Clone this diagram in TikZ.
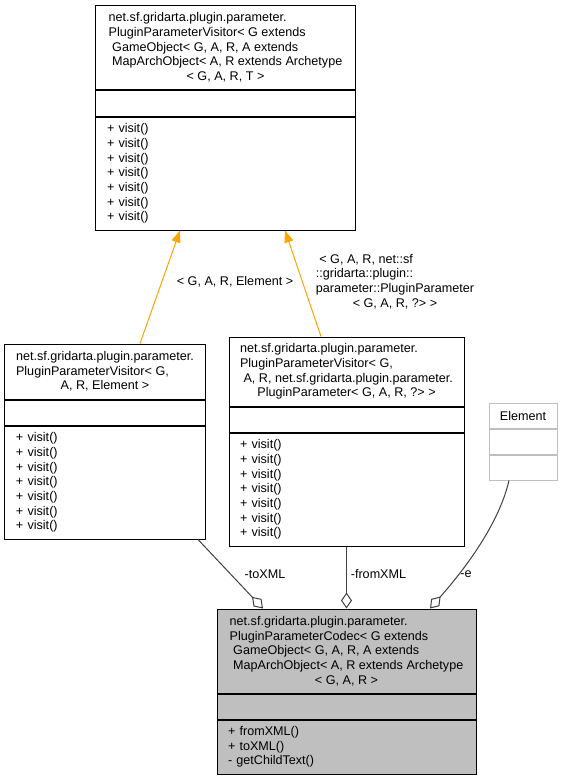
\documentclass[tikz,border=0pt]{standalone}
\usepackage{fontspec}
\setmainfont{Liberation Sans}
\usetikzlibrary{arrows.meta, positioning}
\definecolor{grey25}{HTML}{404040}
\definecolor{grey75}{HTML}{BFBFBF}
\definecolor{dotorange}{HTML}{FFA500}
\tikzset{%
    cls/.style={rectangle, draw=black, line width=1bp, inner sep=4bp, font=\fontsize{12.6bp}{14.67bp}\selectfont},
    clsh/.style={cls, align=left},
    clsm/.style={cls, align=left, inner xsep=11bp},
    clsg/.style={cls, draw=grey75},
    inh/.style={line width=1bp, draw=dotorange, -{Triangle[length=12bp, width=9bp, fill=dotorange]}},
    usa/.style={line width=1bp, draw=grey25, -{Diamond[open, length=16bp, width=11bp]}},
    lbl/.style={align=left, inner sep=0pt, font=\fontsize{12.6bp}{14.67bp}\selectfont},
}
\begin{document}
\begin{tikzpicture}[x=1bp, y=-1bp]
    \useasboundingbox (0,0) rectangle (563,779);
    % template visitor
    \node[clsh, minimum width=259bp, minimum height=83bp] (visitor) at (225.5,47.5) {net.sf.gridarta.plugin.parameter.\\PluginParameterVisitor< G extends\\\ GameObject< G, A, R, A extends\\\ MapArchObject< A, R extends Archetype\\\hspace*{\fill}< G, A, R, T >\hspace*{\fill}};
    \node[cls, minimum width=259bp, minimum height=26bp, below=0pt of visitor] (visitorattr) {};
    \node[clsm, text width=237bp, minimum height=113bp, below=0pt of visitorattr] (visitormeth) {+ visit()\\+ visit()\\+ visit()\\+ visit()\\+ visit()\\+ visit()\\+ visit()};
    % visitor on Element
    \node[clsh, minimum width=200bp, minimum height=55bp] (elemvisit) at (105,371.5) {net.sf.gridarta.plugin.parameter.\\PluginParameterVisitor< G,\\\hspace*{\fill}A, R, Element >\hspace*{\fill}};
    \node[cls, minimum width=200bp, minimum height=25bp, below=0pt of elemvisit] (elemvisitattr) {};
    \node[clsm, text width=178bp, minimum height=113bp, below=0pt of elemvisitattr] (elemvisitmeth) {+ visit()\\+ visit()\\+ visit()\\+ visit()\\+ visit()\\+ visit()\\+ visit()};
    % visitor on PluginParameter
    \node[clsh, minimum width=235bp, minimum height=69bp] (paramvisit) at (346.5,371.5) {net.sf.gridarta.plugin.parameter.\\PluginParameterVisitor< G,\\\ A, R, net.sf.gridarta.plugin.parameter.\\\hspace*{\fill}PluginParameter< G, A, R, ?> >\hspace*{\fill}};
    \node[cls, minimum width=235bp, minimum height=25bp, below=0pt of paramvisit] (paramvisitattr) {};
    \node[clsm, text width=213bp, minimum height=113bp, below=0pt of paramvisitattr] (paramvisitmeth) {+ visit()\\+ visit()\\+ visit()\\+ visit()\\+ visit()\\+ visit()\\+ visit()};
    % Element
    \node[clsg, minimum width=68bp, minimum height=25bp] (element) at (523,415.5) {Element};
    \node[clsg, minimum width=68bp, minimum height=25bp, below=0pt of element] (elementattr) {};
    \node[clsg, minimum width=68bp, minimum height=25bp, below=0pt of elementattr] (elementmeth) {};
    % codec
    \node[clsh, fill=grey75, minimum width=259bp, minimum height=84bp] (codec) at (346.5,651) {net.sf.gridarta.plugin.parameter.\\PluginParameterCodec< G extends\\\ GameObject< G, A, R, A extends\\\ MapArchObject< A, R extends Archetype\\\hspace*{\fill}< G, A, R >\hspace*{\fill}};
    \node[cls, fill=grey75, minimum width=259bp, minimum height=25bp, below=0pt of codec] (codecattr) {};
    \node[clsm, fill=grey75, text width=237bp, minimum height=54bp, below=0pt of codecattr] (codecmeth) {+ fromXML()\\+ toXML()\\- getChildText()};
    % template arrows
    \draw[inh] ([xshift=35bp]elemvisit.north) -- ([xshift=-45.5bp]visitormeth.south);
    \draw[inh] ([xshift=-25.5bp]paramvisit.north) -- ([xshift=59.5bp]visitormeth.south);
    \node[lbl] (lblelem) at (235,282) {< G, A, R, Element >};
    \node[lbl] (lblparam) at (395,281.5) {\ < G, A, R, net::sf\\::gridarta::plugin::\\parameter::PluginParameter\\\hspace*{\fill}< G, A, R, ?> >\hspace*{\fill}};
    % usage
    \draw[usa] ([xshift=93bp]elemvisitmeth.south) -- ([xshift=-83.5bp]codec.north);
    \draw[usa] (paramvisitmeth) -- (codec);
    \draw[usa] ([xshift=-14bp]elementmeth.south) .. controls +(-11,47) and +(30,-34) .. ([xshift=83.5bp]codec.north);
    \node[lbl] (lbltoxml) at (265,574) {-toXML};
    \node[lbl] (lblfromxml) at (378.5,574) {-fromXML};
    \node[lbl] (lble) at (466,574) {-e};
\end{tikzpicture}
\end{document}
